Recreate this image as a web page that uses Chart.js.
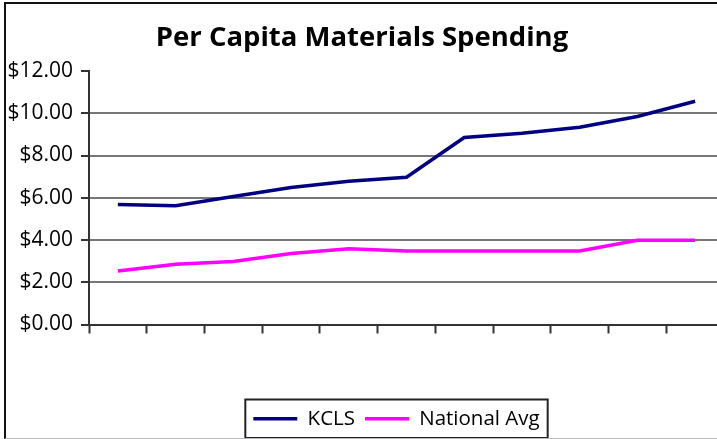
<!DOCTYPE html>
<html>
<head>
<meta charset="utf-8">
<script src="https://cdn.jsdelivr.net/npm/chart.js@4.4.1/dist/chart.umd.min.js"></script>
<style>
  html, body { margin: 0; padding: 0; background: #fff; }
  #wrap { position: relative; width: 717px; height: 439px; overflow: hidden; }
  #frame {
    position: absolute; left: 4px; top: 2px; width: 730px; height: 434px;
    border-top: 2px solid #111; border-left: 2px solid #111; border-bottom: 1px solid #bbb;
    pointer-events: none;
  }
  canvas { position: absolute; left: 0; top: 0; }
</style>
</head>
<body>
<div id="wrap">
  <canvas id="spendingChart" width="724" height="439"></canvas>
  <div id="frame"></div>
</div>
<script>
// Per capita materials spending, one point per period (x axis is unlabeled)
const periods = ['1', '2', '3', '4', '5', '6', '7', '8', '9', '10', '11'];
const kclsValues = [5.68, 5.62, 6.06, 6.49, 6.78, 6.97, 8.85, 9.05, 9.34, 9.85, 10.57];
const nationalValues = [2.53, 2.85, 2.98, 3.36, 3.59, 3.48, 3.48, 3.48, 3.48, 3.99, 3.99];
const yTicks = [0, 2, 4, 6, 8, 10, 12];

const FONT = 'Open Sans';

// nudges the legend a little left and draws the thin box around its items
const legendFrame = {
    id: 'legendFrame',
    afterLayout(chart) {
        chart.legend.left -= 10;
        chart.legend.right -= 10;
    },
    afterDraw(chart) {
        const boxes = chart.legend.legendHitBoxes;
        if (!boxes || !boxes.length) return;
        const first = boxes[0];
        const last = boxes[boxes.length - 1];
        const x0 = first.left - 8;
        const x1 = last.left + last.width + 8;
        const y0 = first.top - 9;
        const y1 = first.top + first.height + 9;
        const ctx = chart.ctx;
        ctx.save();
        ctx.strokeStyle = '#222';
        ctx.lineWidth = 2;
        ctx.strokeRect(x0, y0, x1 - x0, y1 - y0);
        ctx.restore();
    }
};

const ctx = document.getElementById('spendingChart').getContext('2d');
const spendingChart = new Chart(ctx, {
    type: 'line',
    data: {
        labels: periods,
        datasets: [{
            label: 'KCLS',
            data: kclsValues,
            borderColor: '#000080',
            backgroundColor: '#000080',
            borderWidth: 3.5,
            pointRadius: 0,
            tension: 0,
            fill: false
        }, {
            label: 'National Avg',
            data: nationalValues,
            borderColor: '#ff00ff',
            backgroundColor: '#ff00ff',
            borderWidth: 3.5,
            pointRadius: 0,
            tension: 0,
            fill: false
        }]
    },
    options: {
        responsive: false,
        animation: false,
        layout: { padding: { left: 0, right: 0, top: 0, bottom: 0 } },
        plugins: {
            title: {
                display: true,
                text: 'Per Capita Materials Spending',
                color: '#000',
                font: { family: FONT, size: 27.5, weight: 'bold' },
                padding: { top: 22, bottom: 16 }
            },
            legend: {
                position: 'bottom',
                fullSize: false,
                labels: {
                    usePointStyle: true,
                    pointStyle: 'line',
                    pointStyleWidth: 44,
                    color: '#000',
                    font: { family: FONT, size: 20.5 },
                    padding: 10
                }
            },
            tooltip: { enabled: false }
        },
        scales: {
            x: {
                offset: true,
                afterFit: (scale) => { scale.height = scale.height + 65; },
                grid: {
                    offset: true,
                    drawOnChartArea: false,
                    drawTicks: true,
                    tickLength: 9,
                    tickColor: '#333',
                    tickWidth: 2
                },
                border: { color: '#333', width: 2 },
                ticks: { display: false }
            },
            y: {
                min: 0,
                max: 12,
                afterBuildTicks: (scale) => {
                    scale.ticks = yTicks.map(v => ({ value: v }));
                },
                afterFit: (scale) => { scale.width = 89; },
                grid: {
                    color: (c) => (c.tick && c.tick.value === 12) ? 'rgba(0,0,0,0)' : '#777',
                    lineWidth: 2,
                    tickLength: 8,
                    tickColor: '#333',
                    tickWidth: 2
                },
                border: { color: '#333', width: 2 },
                ticks: {
                    color: '#000',
                    padding: 8,
                    font: { family: FONT, size: 21 },
                    callback: (v) => '$' + Number(v).toFixed(2)
                }
            }
        }
    },
    plugins: [legendFrame]
});
</script>
</body>
</html>
